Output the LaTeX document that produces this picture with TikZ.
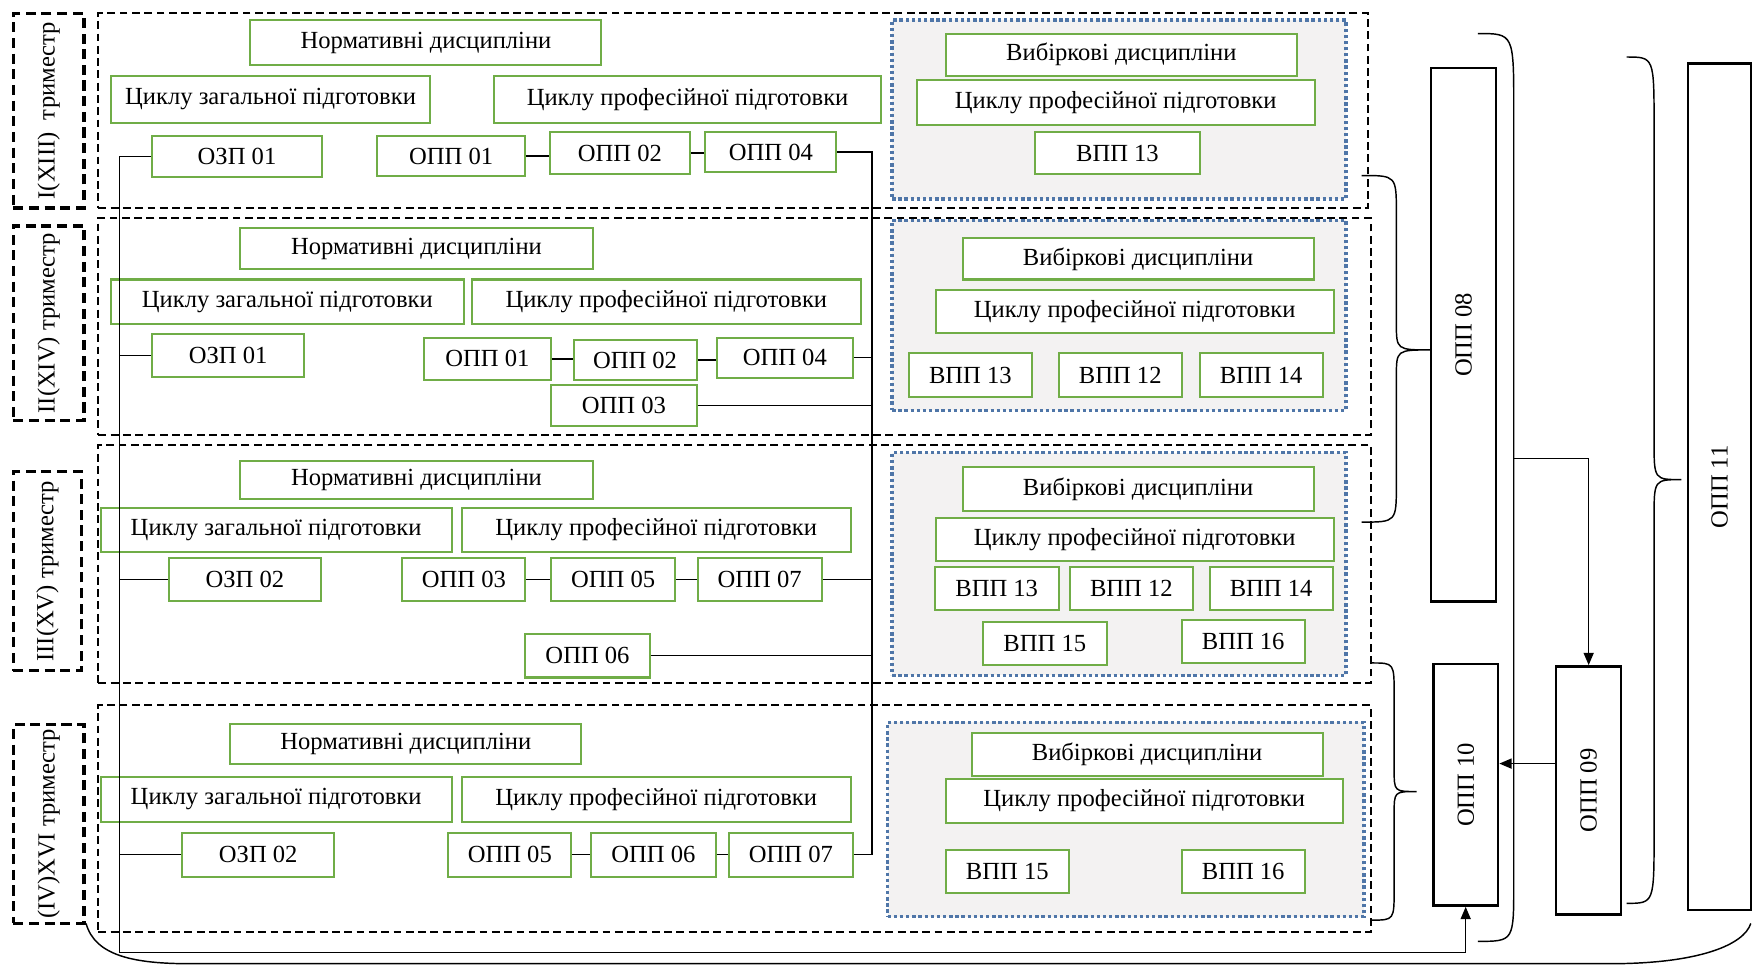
\documentclass[tikz,border=0pt]{standalone}
\usepackage{fontspec}
\setmainfont{Liberation Serif}
\usetikzlibrary{arrows.meta}
\definecolor{gline}{RGB}{112,173,71}
\definecolor{bdot}{RGB}{79,118,168}
\definecolor{pfill}{RGB}{243,242,242}
\newcommand{\BX}[7][gbox]{\node[#1, minimum width={#5pt-#3pt}, minimum height={#6pt-#4pt}] (#2) at ({(#3+#5)/2},{(#4+#6)/2}) {#7};}
\newcommand{\RBr}[7]{\draw[conn] (#1,#2) .. controls ({(#1+#4)/2},#2) .. ({(#1+#4)/2},{#2+#6}) -- ({(#1+#4)/2},{#5-#7}) .. controls ({(#1+#4)/2},#5) .. (#4,#5) .. controls ({(#1+#4)/2},#5) .. ({(#1+#4)/2},{#5+#7}) -- ({(#1+#4)/2},{#3-#6}) .. controls ({(#1+#4)/2},#3) .. (#1,#3);}
\begin{document}
\begin{tikzpicture}[x=1pt,y=-1pt,
  txt/.style={font=\fontsize{22}{25}\selectfont},
  gbox/.style={txt, draw=gline, line width=1.8pt, fill=white, inner sep=0pt},
  bbox/.style={txt, draw=black, line width=2.2pt, fill=white, inner sep=0pt},
  tpanel/.style={draw=black, line width=1.8pt, dash pattern=on 7pt off 4pt, inner sep=0pt},
  epanel/.style={draw=bdot, fill=pfill, line width=3pt, dash pattern=on 3pt off 2.5pt, inner sep=0pt},
  lbox/.style={txt, draw=black, line width=3pt, dash pattern=on 9pt off 5pt, inner sep=0pt},
  conn/.style={draw=black, line width=1.3pt},
  arr/.style={-{Triangle[length=11pt,width=9pt]}}]
\useasboundingbox (0,0) rectangle (1568,864);
% trimester labels
\BX[lbox]{l1}{12}{12}{75}{186}{\rotatebox{90}{I(XIII)\ \ триместр}}
\BX[lbox]{l2}{12}{202}{75}{376}{\rotatebox{90}{II(XIV) триместр}}
\BX[lbox]{l3}{12}{422}{73}{600}{\rotatebox{90}{III(XV) триместр}}
\BX[lbox]{l4}{12}{648}{75}{826}{\rotatebox{90}{(IV)XVI триместр}}
% trimester panels
\BX[tpanel]{t1}{88}{12}{1224}{186}{}
\BX[tpanel]{t2}{88}{195}{1226}{389}{}
\BX[tpanel]{t3}{88}{398}{1226}{611}{}
\BX[tpanel]{t4}{88}{631}{1226}{834}{}
% elective panels
\BX[epanel]{e1}{798}{18}{1204}{178}{}
\BX[epanel]{e2}{798}{197}{1204}{367}{}
\BX[epanel]{e3}{798}{405}{1204}{604}{}
\BX[epanel]{e4}{794}{646}{1220}{820}{}
% row 1
\BX{a1n}{224}{18}{538}{58}{Нормативні дисципліни}
\BX{a1z}{99}{68}{385}{110}{Циклу загальної підготовки}
\BX{a1p}{442}{68}{788}{110}{Циклу професійної підготовки}
\BX{a1ozp}{136}{122}{288}{158}{ОЗП 01}
\BX{a1o1}{337}{122}{470}{157}{ОПП 01}
\BX{a1o2}{492}{118}{617}{156}{ОПП 02}
\BX{a1o4}{631}{118}{748}{154}{ОПП 04}
\BX{a1v}{846}{30}{1160}{68}{Вибіркові дисципліни}
\BX{a1vp}{820}{72}{1176}{112}{Циклу професійної підготовки}
\BX{a1v13}{926}{118}{1073}{156}{ВПП 13}
% row 2
\BX{b2n}{215}{204}{530}{241}{Нормативні дисципліни}
\BX{b2z}{99}{250}{415}{290}{Циклу загальної підготовки}
\BX{b2p}{422}{250}{770}{290}{Циклу професійної підготовки}
\BX{b2ozp}{136}{299}{272}{337}{ОЗП 01}
\BX{b2o1}{379}{302}{493}{340}{ОПП 01}
\BX{b2o2}{513}{304}{623}{340}{ОПП 02}
\BX{b2o4}{641}{302}{763}{338}{ОПП 04}
\BX{b2o3}{493}{344}{623}{381}{ОПП 03}
\BX{b2v}{861}{213}{1175}{250}{Вибіркові дисципліни}
\BX{b2vp}{837}{259}{1193}{298}{Циклу професійної підготовки}
\BX{b2v13}{813}{316}{923}{355}{ВПП 13}
\BX{b2v12}{947}{316}{1057}{355}{ВПП 12}
\BX{b2v14}{1073}{316}{1183}{355}{ВПП 14}
% row 3
\BX{c3n}{215}{412}{530}{446}{Нормативні дисципліни}
\BX{c3z}{90}{454}{404}{494}{Циклу загальної підготовки}
\BX{c3p}{413}{454}{761}{494}{Циклу професійної підготовки}
\BX{c3ozp}{151}{499}{287}{538}{ОЗП 02}
\BX{c3o3}{360}{499}{470}{538}{ОПП 03}
\BX{c3o5}{493}{499}{604}{538}{ОПП 05}
\BX{c3o7}{624}{499}{735}{538}{ОПП 07}
\BX{c3o6}{470}{567}{581}{606}{ОПП 06}
\BX{c3v}{861}{418}{1175}{457}{Вибіркові дисципліни}
\BX{c3vp}{837}{463}{1193}{502}{Циклу професійної підготовки}
\BX{c3v13}{836}{507}{947}{546}{ВПП 13}
\BX{c3v12}{957}{507}{1067}{546}{ВПП 12}
\BX{c3v14}{1082}{507}{1192}{546}{ВПП 14}
\BX{c3v15}{879}{556}{990}{595}{ВПП 15}
\BX{c3v16}{1057}{555}{1167}{593}{ВПП 16}
% row 4
\BX{d4n}{206}{648}{520}{683}{Нормативні дисципліни}
\BX{d4z}{90}{695}{404}{735}{Циклу загальної підготовки}
\BX{d4p}{413}{695}{761}{735}{Циклу професійної підготовки}
\BX{d4ozp}{163}{745}{299}{784}{ОЗП 02}
\BX{d4o5}{401}{745}{511}{784}{ОПП 05}
\BX{d4o6}{529}{745}{640}{784}{ОПП 06}
\BX{d4o7}{652}{745}{763}{784}{ОПП 07}
\BX{d4v}{869}{656}{1183}{694}{Вибіркові дисципліни}
\BX{d4vp}{846}{697}{1201}{736}{Циклу професійної підготовки}
\BX{d4v15}{846}{760}{956}{799}{ВПП 15}
\BX{d4v16}{1057}{760}{1167}{799}{ВПП 16}
% right boxes
\BX[bbox]{opp08}{1280}{61}{1338}{538}{\rotatebox{90}{ОПП 08}}
\BX[bbox]{opp10}{1282}{594}{1340}{810}{\rotatebox{90}{ОПП 10}}
\BX[bbox]{opp09}{1392}{596}{1450}{818}{\rotatebox{90}{ОПП 09}}
\BX[bbox]{opp11}{1510}{57}{1566}{814}{\rotatebox{90}{ОПП 11}}
% connectors
\coordinate (Lx) at (107,0);
\coordinate (Rx) at (780,0);
\coordinate (Lb) at (107,852);
\draw[conn,arr] (a1ozp.west) -| (Lb) -| (opp10.south);
\draw[conn] (b2ozp.west) -- (b2ozp.west -| Lx);
\draw[conn] (c3ozp.west) -- (c3ozp.west -| Lx);
\draw[conn] (d4ozp.west) -- (d4ozp.west -| Lx);
\draw[conn] (a1o4.east) -| (d4o7.east -| Rx) -- (d4o7.east);
\draw[conn] (b2o4.east) -- (b2o4.east -| Rx);
\draw[conn] (b2o3.east) -- (b2o3.east -| Rx);
\draw[conn] (c3o7.east) -- (c3o7.east -| Rx);
\draw[conn] (c3o6.east) -- (c3o6.east -| Rx);
\draw[conn] (a1o1.east) -- (a1o1.east -| a1o2.west);
\draw[conn] (a1o2.east) -- (a1o2.east -| a1o4.west);
\draw[conn] (b2o1.east) -- (b2o1.east -| b2o2.west);
\draw[conn] (b2o2.east) -- (b2o2.east -| b2o4.west);
\draw[conn] (c3o3.east) -- (c3o3.east -| c3o5.west);
\draw[conn] (c3o5.east) -- (c3o5.east -| c3o7.west);
\draw[conn] (d4o5.east) -- (d4o5.east -| d4o6.west);
\draw[conn] (d4o6.east) -- (d4o6.east -| d4o7.west);
% braces
\RBr{1218}{157}{467}{1280}{313}{34}{24}
\RBr{1227}{593}{823}{1267}{708}{28}{20}
\RBr{1455}{51}{808}{1504}{429}{62}{34}
\draw[conn] (1322,30) .. controls (1354,30) .. (1354,98) -- (1354,790) .. controls (1354,842) .. (1322,842);
\coordinate (b3tip) at (1354,410);
\draw[conn,arr] (b3tip) -| (opp09.north);
\draw[conn,arr] ([yshift=24pt]opp09.west) -- ([yshift=24pt]opp09.west -| opp10.east);
\draw[conn] (77,826) .. controls (85,855) and (120,862) .. (170,862) -- (1440,862) .. controls (1520,862) and (1560,845) .. (1566,826);
\end{tikzpicture}
\end{document}
